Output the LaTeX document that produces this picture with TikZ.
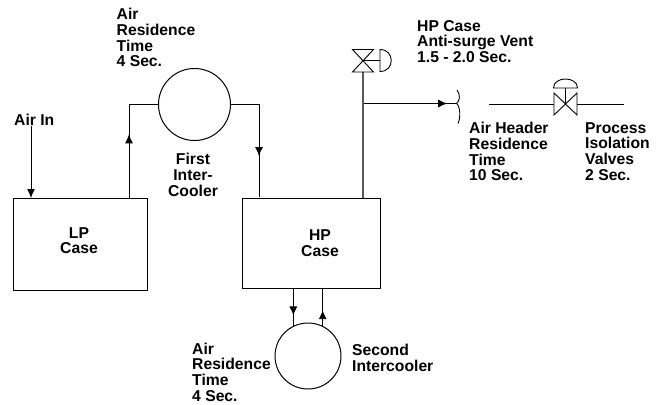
\documentclass[tikz,border=0pt]{standalone}
\usepackage{fontspec}
\setmainfont{Liberation Sans}
\usetikzlibrary{arrows.meta,decorations.markings}

\begin{document}
\begin{tikzpicture}[x=1pt,y=-1pt,
			box/.style={draw,rectangle,line width=1pt,inner sep=0pt},
			cooler/.style={draw,circle,line width=1pt,inner sep=0pt},
			txt/.style={inner sep=0pt,font=\fontsize{15.7}{15.8}\selectfont\bfseries,align=left,anchor=north west},
			ctxt/.style={txt,align=center,anchor=north},
			pipe/.style={line width=.9pt},
			vent/.style={line width=1.3pt,black!65},
			tip/.style={-{Latex[length=9pt,width=8pt]}},
			flowat/.style={postaction={decorate},decoration={markings,mark=at position #1 with {\arrow{Latex[length=9pt,width=8pt]}}}}]
			\useasboundingbox (0,0) rectangle (660,404);

			\node (lpcase) [box,minimum width=134pt,minimum height=92pt] at (80,244) {};
			\node (hpcase) [box,minimum width=138pt,minimum height=90pt] at (311,243) {};
			\node (firstcooler) [cooler,minimum size=72pt] at (194.5,104.5) {};
			\node (secondcooler) [cooler,minimum size=66pt] at (308,356) {};

			\coordinate (lpin) at (31,198);
			\coordinate (lpout) at (129,198);
			\coordinate (hpin) at (259,197);
			\coordinate (ventvalve) at (363,60.5);
			\coordinate (ventbranch) at (363.5,103.5);
			\coordinate (headerend) at (456.5,103.5);
			\coordinate (headerstart) at (489,104);
			\coordinate (isovalve) at (565.5,104);
			\coordinate (isoend) at (624,104);

			\node (airin) [txt] at (14,114) {Air In};
			\node (airtop) [txt] at (116.5,8) {Air\\Residence\\Time\\4 Sec.};
			\node (firstlabel) [ctxt] at (193,153) {First\\Inter-\\Cooler};
			\node (lplabel) [ctxt] at (79,227) {LP\\Case};
			\node (hplabel) [ctxt] at (320,229.5) {HP\\Case};
			\node (secondlabel) [txt] at (352,344) {Second\\Intercooler};
			\node (airlow) [txt] at (192,342.5) {Air\\Residence\\Time\\4 Sec.};
			\node (ventlabel) [txt] at (417,20) {HP Case\\Anti-surge Vent\\1.5 - 2.0 Sec.};
			\node (headerlabel) [txt] at (469,122) {Air Header\\Residence\\Time\\10 Sec.};
			\node (isolabel) [txt] at (585,122) {Process\\Isolation\\Valves\\2 Sec.};

			\draw [pipe,tip] (airin.south -| lpin) -- (lpin);
			\draw [pipe,flowat=.52] (lpout) |- (firstcooler.west);
			\draw [pipe,flowat=.66] (firstcooler.east) -| (hpin);
			\draw [pipe,flowat=.72] (hpcase.south -| secondcooler.116) -- (secondcooler.116);
			\draw [pipe,flowat=.42] (secondcooler.64) -- (hpcase.south -| secondcooler.64);

			% vent valve
			\draw [vent] (hpcase.north -| ventvalve) -- ++(0,-126);
			\draw [pipe] (ventvalve) ++(-10.5,-11) -- ++(21,0) -- ++(-21,22.5) -- ++(21,0) -- cycle;
			\draw [pipe] (ventvalve) -- ++(17,0);
			\draw [pipe] (ventvalve) ++(17,-11) -- ++(0,22) .. controls +(15,0) and +(15,0) .. ++(0,-22) -- cycle;
			\draw [pipe,flowat=.9] (ventbranch) -- (headerend);
			\draw [pipe] (headerend) .. controls +(3.5,-2) and +(3.5,4) .. ++(.5,-13.5);
			\draw [pipe] (headerend) .. controls +(3.5,2) and +(3,-6) .. ++(1.5,20);

			% isolation valve
			\draw [pipe] (headerstart) -- ++(64.5,0);
			\draw [pipe] (isovalve) ++(-11.5,-11) -- ++(23,22) -- ++(0,-22) -- ++(-23,22) -- cycle;
			\draw [pipe] (isovalve) -- ++(0,-16);
			\draw [pipe] (isovalve) ++(-12,-16) -- ++(24,0) .. controls +(0,-12) and +(0,-12) .. ++(-24,0) -- cycle;
			\draw [pipe] (isovalve) ++(11.5,0) -- (isoend);
		\end{tikzpicture}
\end{document}
